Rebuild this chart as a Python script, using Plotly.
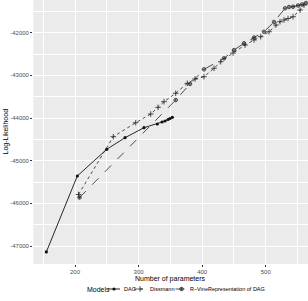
import plotly.graph_objects as go

# DAG (solid, filled circles)
dag_x = [154.9, 203.6, 249.9, 278.7, 308.5, 329.5, 336.9, 341.6, 346.3, 349.4, 353.1]
dag_y = [-47140, -45359, -44733, -44461, -44227, -44140, -44093, -44070, -44035, -44011, -43983]

# Dissmann (dotted, plus markers)
dis_x = [205.5, 260.2, 295.5, 319.1, 330.6, 340.0, 358.4, 376.7, 388.8, 402.9, 418.7, 429.2,
         448.6, 467.4, 481.6, 492.1, 505.2, 516.2, 522.5, 528.8, 535.1, 543.0, 554.0, 560.2]
dis_y = [-45793, -44438, -44110, -43906, -43749, -43617, -43420, -43186, -43085, -43031, -42834, -42680,
         -42476, -42288, -42171, -42094, -41977, -41820, -41742, -41702, -41667, -41625, -41468, -41351]

# R-Vine representation of DAG (dashed, circle-plus markers)
rv_x = [207.1, 358.4, 380.9, 402.9, 434.4, 450.1, 465.8, 481.6, 497.3, 513.0, 530.4, 536.6,
        543.0, 550.8, 557.1, 563.4]
rv_y = [-45863, -43578, -43202, -42858, -42600, -42406, -42248, -42113, -41977, -41749, -41428, -41398,
        -41391, -41362, -41339, -41304]

model_names = ["DAG", "Dissmann", "R\u2013VineRepresentation of DAG"]
x_ticks = [200, 300, 400, 500]
x_minor = [150, 250, 350, 450, 550]
y_ticks = [-47000, -46000, -45000, -44000, -43000, -42000]
y_minor = [-46500, -45500, -44500, -43500, -42500, -41500]
y_ticklabels = ["-47000", "-46000", "-45000", "-44000", "-43000", "-42000"]

W, H = 308, 301
panel_left, panel_bottom = 33.3, 264.0
FONT = "Liberation Sans, Arial, sans-serif"

styles = [
    dict(line=dict(color="#111111", width=0.9, dash="solid"),
         marker=dict(symbol="circle", size=3.2, color="#111111")),
    dict(line=dict(color="#222222", width=0.8, dash="dot"),
         marker=dict(symbol="cross-thin-open", size=4, color="#222222",
                     line=dict(color="#222222", width=0.8))),
    dict(line=dict(color="#222222", width=0.8, dash="dash"),
         marker=dict(symbol="circle-cross-open", size=3.6, color="#222222",
                     line=dict(color="#222222", width=0.7))),
]

fig = go.Figure()
for name, xs, ys, st in zip(model_names, [dag_x, dis_x, rv_x], [dag_y, dis_y, rv_y], styles):
    fig.add_trace(go.Scatter(x=xs, y=ys, mode="lines+markers", name=name,
                             line=st["line"], marker=st["marker"], showlegend=False,
                             xaxis="x", yaxis="y"))

# manual ggplot-like legend (keys on a pixel-space overlay axis)
key_left = [108, 134, 175.5]
key_w = 12
legend_y = 289
for name, kx, st in zip(model_names, key_left, styles):
    fig.add_trace(go.Scatter(x=[kx, kx + key_w], y=[legend_y, legend_y], mode="lines",
                             line=dict(color=st["line"]["color"], width=st["line"]["width"],
                                       dash=st["line"]["dash"]),
                             showlegend=False, hoverinfo="skip", xaxis="x2", yaxis="y2"))
    fig.add_trace(go.Scatter(x=[kx + key_w / 2], y=[legend_y], mode="markers",
                             marker=st["marker"], showlegend=False, hoverinfo="skip",
                             xaxis="x2", yaxis="y2"))

axis_common = dict(showline=False, zeroline=False, gridcolor="white", gridwidth=1,
                   ticks="outside", ticklen=2.2, tickwidth=0.6, tickcolor="#333333",
                   tickfont=dict(family=FONT, size=6, color="#4D4D4D"), automargin=False)

annotations = [
    dict(text="Number of parameters", x=(panel_left + W) / 2 / W, y=1 - 279 / H,
         xref="paper", yref="paper", showarrow=False, xanchor="center", yanchor="middle",
         font=dict(family=FONT, size=7, color="black")),
    dict(text="Log-Likelihood", x=5.5 / W, y=1 - 132 / H, xref="paper", yref="paper",
         showarrow=False, textangle=-90, xanchor="center", yanchor="middle",
         font=dict(family=FONT, size=7, color="black")),
    dict(text="Models", x=84.5 / W, y=1 - legend_y / H, xref="paper", yref="paper",
         showarrow=False, xanchor="left", yanchor="middle",
         font=dict(family=FONT, size=7, color="black")),
]
text_left = [121.5, 147.5, 188]
for name, tx in zip(model_names, text_left):
    annotations.append(dict(text=name, x=tx / W, y=1 - legend_y / H, xref="paper", yref="paper",
                            showarrow=False, xanchor="left", yanchor="middle",
                            font=dict(family=FONT, size=5.5, color="black")))

fig.update_layout(
    width=W, height=H, autosize=False,
    margin=dict(l=0, r=0, t=0, b=0, pad=0),
    paper_bgcolor="white", plot_bgcolor="white",
    font=dict(family=FONT, color="black"),
    showlegend=False,
    xaxis=dict(domain=[panel_left / W, 1], range=[134.4, 566.5], tickvals=x_ticks,
               ticktext=[str(v) for v in x_ticks],
               minor=dict(tickvals=x_minor, gridcolor="white", gridwidth=0.5, ticks="", showgrid=True),
               **axis_common),
    yaxis=dict(domain=[1 - panel_bottom / H, 1], range=[-47422, -41233], tickvals=y_ticks,
               ticktext=y_ticklabels,
               minor=dict(tickvals=y_minor, gridcolor="white", gridwidth=0.5, ticks="", showgrid=True),
               **axis_common),
    xaxis2=dict(domain=[0, 1], range=[0, W], visible=False, fixedrange=True, anchor="y2"),
    yaxis2=dict(domain=[0, 1 - panel_bottom / H], range=[H, panel_bottom], visible=False,
                fixedrange=True, anchor="x2"),
    shapes=[dict(type="rect", xref="x domain", yref="y domain", x0=0, x1=1, y0=0, y1=1,
                 fillcolor="#EBEBEB", line=dict(width=0), layer="below")],
    annotations=annotations,
)

fig.write_html("out.html", config={"displayModeBar": False},
               post_script="document.body.style.margin='0';document.body.style.overflow='hidden';")
